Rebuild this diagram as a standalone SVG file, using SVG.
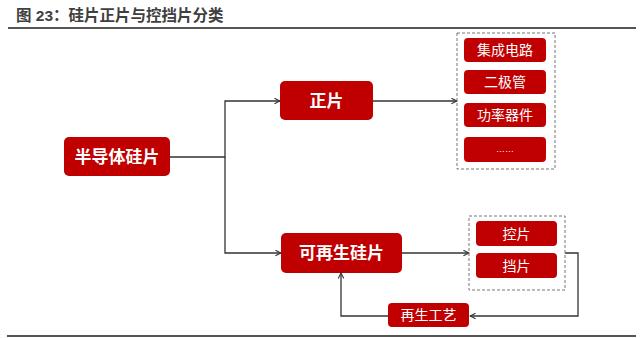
<svg xmlns="http://www.w3.org/2000/svg" width="640" height="338" viewBox="0 0 640 338">
<style>
.title{font-family:"Liberation Sans","Noto Sans CJK SC",sans-serif;font-size:15.5px;font-weight:bold;fill:#404040}
.rule{stroke:#555;stroke-width:2}
.box{fill:#C00000}
.big{font-family:"Liberation Sans","Noto Sans CJK SC",sans-serif;font-size:17px;font-weight:bold;fill:#fff;text-anchor:middle;dominant-baseline:central}
.small{font-family:"Liberation Sans","Noto Sans CJK SC",sans-serif;font-size:14px;fill:#fff;text-anchor:middle;dominant-baseline:central}
.dash{fill:none;stroke:#777;stroke-width:1;stroke-dasharray:3,2}
.conn{fill:none;stroke:#333;stroke-width:1.3;marker-end:url(#arr)}
</style>
<defs>
<marker id="arr" viewBox="0 0 10 10" refX="9" refY="5" markerWidth="7" markerHeight="7" markerUnits="userSpaceOnUse" orient="auto">
<path d="M1,1 L9,5 L1,9" fill="none" stroke="#333" stroke-width="1.5"/>
</marker>
</defs>
<rect width="640" height="338" fill="#fff"/>
<text class="title" x="16" y="21">图 23：硅片正片与控挡片分类</text>
<line class="rule" x1="8" y1="28" x2="636" y2="28"/>
<line class="rule" x1="7" y1="336" x2="636" y2="336"/>

<g id="connectors">
<path class="conn" d="M170,157 H225 V101 H280"/>
<path class="conn" d="M225,157 V253 H281"/>
<path class="conn" d="M373,101 H457"/>
<path class="conn" d="M402,253 H469"/>
<path class="conn" d="M565,253 H578 V316 H470"/>
<path class="conn" d="M388,316 H341 V273"/>
</g>

<g id="node-semiconductor">
<rect class="box" x="64" y="137" width="106" height="39" rx="5"/>
<text class="big" x="117" y="157">半导体硅片</text>
</g>
<g id="node-prime">
<rect class="box" x="280" y="81" width="93" height="39" rx="5"/>
<text class="big" x="326.5" y="101">正片</text>
</g>
<g id="node-reclaim">
<rect class="box" x="281" y="233" width="121" height="40" rx="5"/>
<text class="big" x="341.5" y="253">可再生硅片</text>
</g>

<g id="group-prime-uses">
<rect class="dash" x="457" y="33" width="98" height="136"/>
<g id="node-ic">
<rect class="box" x="464" y="38" width="82" height="24" rx="4"/>
<text class="small" x="505" y="50">集成电路</text>
</g>
<g id="node-diode">
<rect class="box" x="464" y="70" width="82" height="24" rx="4"/>
<text class="small" x="505" y="82">二极管</text>
</g>
<g id="node-power">
<rect class="box" x="464" y="103" width="82" height="24" rx="4"/>
<text class="small" x="505" y="115">功率器件</text>
</g>
<g id="node-more">
<rect class="box" x="464" y="137" width="82" height="25" rx="4"/>
<text class="small" x="505" y="149" style="font-size:9px">……</text>
</g>
</g>

<g id="group-test">
<rect class="dash" x="469" y="216" width="96" height="74"/>
<g id="node-control">
<rect class="box" x="476" y="221" width="81" height="25" rx="4"/>
<text class="small" x="516.5" y="233.5">控片</text>
</g>
<g id="node-dummy">
<rect class="box" x="476" y="253" width="81" height="25" rx="4"/>
<text class="small" x="516.5" y="265.5">挡片</text>
</g>
</g>

<g id="node-process">
<rect class="box" x="388" y="303" width="81" height="24" rx="4"/>
<text class="small" x="428.5" y="315">再生工艺</text>
</g>
</svg>
